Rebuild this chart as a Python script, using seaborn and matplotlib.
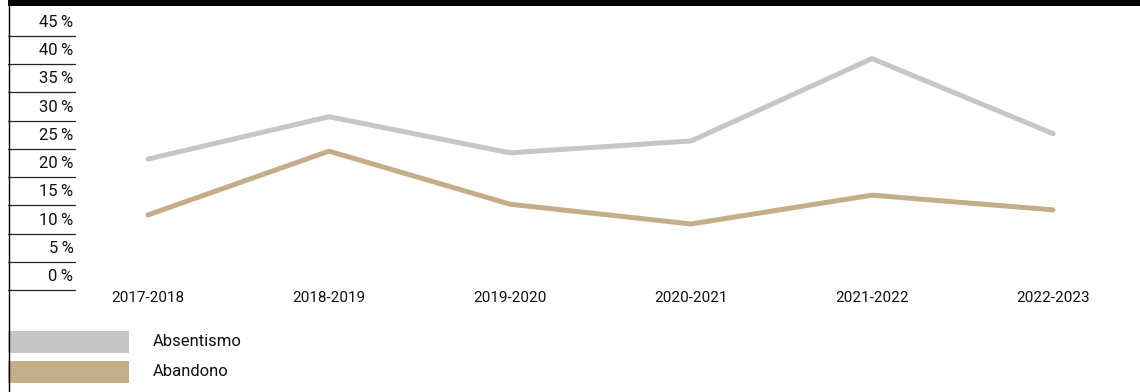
import pandas as pd
import numpy as np
import matplotlib.pyplot as plt
import matplotlib
from matplotlib.patches import Rectangle
from matplotlib.lines import Line2D
import seaborn as sns

years = ['2017-2018', '2018-2019', '2019-2020', '2020-2021', '2021-2022', '2022-2023']
absentismo = [23.2, 30.7, 24.3, 26.4, 41.0, 27.7]
abandono = [13.3, 24.6, 15.2, 11.7, 16.8, 14.2]
series_names = ['Absentismo', 'Abandono']
y_ticks = [0, 5, 10, 15, 20, 25, 30, 35, 40, 45]

GRAY = '#C6C6C6'
TAN = '#C4AE8A'

W, H = 1140, 392


def px_x(p):
  return p / W


def px_y(p):
  return 1 - p / H


sns.set_theme(style='white')
plt.rcParams['font.family'] = ['Roboto', 'DejaVu Sans']

df = pd.concat([
    pd.DataFrame({'year': years, 'value': absentismo, 'serie': series_names[0]}),
    pd.DataFrame({'year': years, 'value': abandono, 'serie': series_names[1]}),
], ignore_index=True)

fig = plt.figure(figsize=(W / 100, H / 100), dpi=100)
fig.patch.set_facecolor('white')

# axes: left at x=8px, top at y=6px, bottom (0 %) at y=290px
ax = fig.add_axes([px_x(8), px_y(290), (W - 8) / W, (290 - 6) / H])
sns.lineplot(data=df, x='year', y='value', hue='serie', palette=[GRAY, TAN],
             linewidth=3.6, solid_capstyle='round', legend=False, ax=ax)

step = 181.0
ax.set_xlim((8 - 148) / step, (W - 148) / step)
ppv = (290 - 36) / 45.0
ax.set_ylim(0, (290 - 6) / ppv)

for s in ['top', 'right', 'bottom', 'left']:
  ax.spines[s].set_visible(False)

ax.set_xticks(range(len(years)))
ax.set_xticklabels(years)
ax.tick_params(axis='x', length=0, pad=1, labelsize=11, colors='#111111')
ax.set_yticks([])
ax.set_xlabel('')
ax.set_ylabel('')

# y scale: short rules with labels above them
trans = matplotlib.transforms.blended_transform_factory(ax.transAxes, ax.transData)
x_end = (75 - 8) / (W - 8)
x_lab = (73.5 - 8) / (W - 8)
for v in y_ticks:
  ax.add_line(Line2D([0, x_end], [v, v], transform=trans, color='#222222',
                     linewidth=0.9, clip_on=False))
  ax.text(x_lab, v + 13.5 / ppv, f'{v}\u2009%', transform=trans, ha='right',
          va='center', fontsize=12, color='#111111')

# frame: black top bar and left rule
fig.add_artist(Rectangle((px_x(8), px_y(6)), 1, 6 / H, transform=fig.transFigure,
                         color='black', linewidth=0))
fig.add_artist(Line2D([px_x(8.5), px_x(8.5)], [0, 1], transform=fig.transFigure,
                      color='black', linewidth=1.0))

# legend: colour blocks with labels
for name, color, top in zip(series_names, [GRAY, TAN], [331, 361]):
  fig.add_artist(Rectangle((px_x(8), px_y(top + 22)), 121 / W, 22 / H,
                           transform=fig.transFigure, color=color, linewidth=0))
  fig.text(px_x(153), px_y(top + 11), name, ha='left', va='center',
           fontsize=12, color='#111111')

fig.savefig('out.png', dpi=100)
